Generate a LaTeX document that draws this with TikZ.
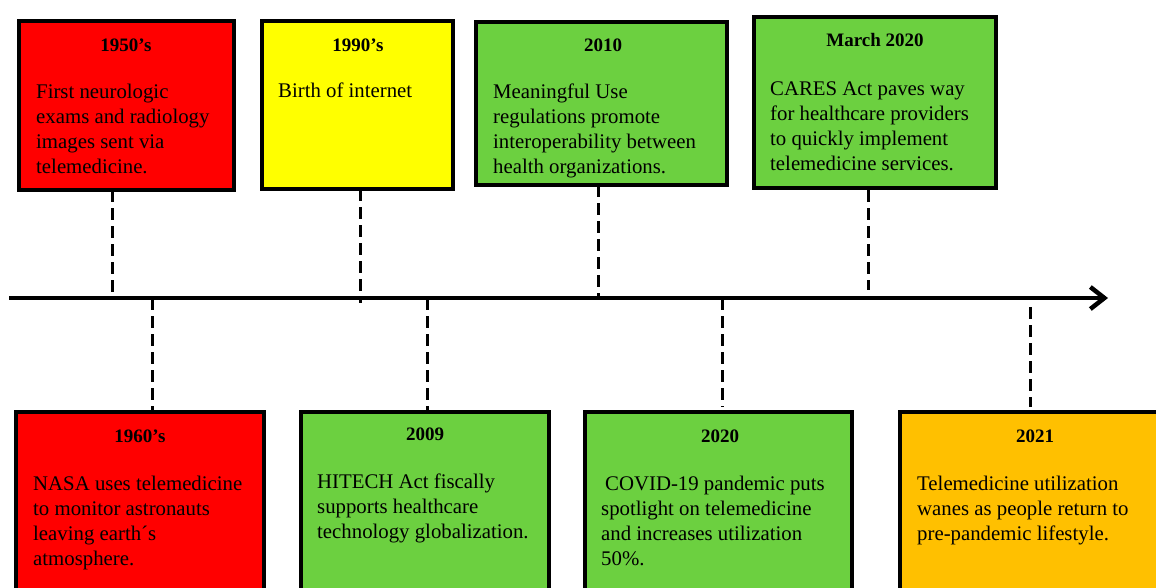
\documentclass[tikz,border=0pt]{standalone}
\usepackage{fontspec}
\setmainfont{Liberation Serif}
\usetikzlibrary{arrows.meta,shadows}

\definecolor{evred}{RGB}{255,0,0}
\definecolor{evyellow}{RGB}{255,255,0}
\definecolor{evgreen}{RGB}{108,208,64}
\definecolor{evorange}{RGB}{255,192,0}

\tikzset{
  evbox/.style={draw=black, line width=4pt, rectangle, inner sep=0pt, outer sep=0pt,
    drop shadow={shadow xshift=1pt, shadow yshift=-1.5pt, fill=black, opacity=0.3}},
  ttl/.style={anchor=base, inner sep=0pt, font=\fontsize{19}{23}\selectfont\bfseries},
  body/.style={anchor=north west, inner sep=0pt, align=left, font=\fontsize{20.8}{25}\selectfont},
  timeline/.style={line width=4.5pt, -{Straight Barb[length=14pt,width=22pt]}},
  dropline/.style={line width=3pt, dash pattern=on 12pt off 6pt},
}
% first-line strut so that a body's north edge sits 16pt above its first baseline
\newcommand{\fl}{\rule{0pt}{16pt}}

\begin{document}
\begin{tikzpicture}[x=1pt, y=-1pt]
  \useasboundingbox (0,0) rectangle (1156,587);
  \clip (0,0) rectangle (1156,587);

  % timeline axis
  \coordinate (axL) at (9,298);
  \coordinate (axR) at (1108,298);
  \draw[timeline] (axL) -- (axR);

  % events above the axis
  \node[evbox, fill=evred,    minimum width=215pt, minimum height=169pt] (b1950) at (126.5,105.5) {};
  \node[evbox, fill=evyellow, minimum width=191pt, minimum height=168pt] (b1990) at (357.5,105) {};
  \node[evbox, fill=evgreen,  minimum width=251pt, minimum height=163pt] (b2010) at (601.5,103.5) {};
  \node[evbox, fill=evgreen,  minimum width=242pt, minimum height=171pt] (bMar)  at (875,102.5) {};

  % events below the axis (running past the lower edge)
  \node[evbox, fill=evred,    minimum width=248pt, minimum height=208pt] (b1960) at (140,516) {};
  \node[evbox, fill=evgreen,  minimum width=248pt, minimum height=208pt] (b2009) at (425,516) {};
  \node[evbox, fill=evgreen,  minimum width=267pt, minimum height=208pt] (b2020) at (718.5,516) {};
  \node[evbox, fill=evorange, minimum width=300pt, minimum height=208pt] (b2021) at (1050,516) {};

  % titles
  \node[ttl] (t1950) at (126,51) {1950’s};
  \node[ttl] (t1990) at (358,51) {1990’s};
  \node[ttl] (t2010) at (603,51) {2010};
  \node[ttl] (tMar)  at (875,46) {March 2020};
  \node[ttl] (t1960) at (140,442) {1960’s};
  \node[ttl] (t2009) at (425,440) {2009};
  \node[ttl] (t2020) at (720,442) {2020};
  \node[ttl] (t2021) at (1035,442) {2021};

  % descriptions
  \node[body] (d1950) at (36,82) {\fl First neurologic\\exams and radiology\\images sent via\\telemedicine.};
  \node[body] (d1990) at (278,81) {\fl Birth of internet};
  \node[body] (d2010) at (493,82) {\fl Meaningful Use\\regulations promote\\interoperability between\\health organizations.};
  \node[body] (dMar)  at (770,79) {\fl CARES Act paves way\\for healthcare providers\\to quickly implement\\telemedicine services.};
  \node[body] (d1960) at (33,474) {\fl NASA uses telemedicine\\to monitor astronauts\\leaving earth´s\\atmosphere.};
  \node[body] (d2009) at (317,472) {\fl HITECH Act fiscally\\supports healthcare\\technology globalization.};
  \node[body] (d2020) at (601,474) {\fl\hspace{4pt}COVID-19 pandemic puts\\spotlight on telemedicine\\and increases utilization\\50\%.};
  \node[body] (d2021) at (917,474) {\fl Telemedicine utilization\\wanes as people return to\\pre-pandemic lifestyle.};

  % points on the axis
  \coordinate (a1950) at (112,293);
  \coordinate (a1990) at (360,303);
  \coordinate (a2010) at (598,298);
  \coordinate (aMar)  at (868,290);
  \coordinate (a1960) at (152,298);
  \coordinate (a2009) at (427,298);
  \coordinate (a2020) at (722,298);
  \coordinate (a2021) at (1030,307);

  % dashed drop lines
  \draw[dropline] (b1950.south -| a1950) -- (a1950);
  \draw[dropline] (b1990.south -| a1990) -- (a1990);
  \draw[dropline] (b2010.south -| a2010) -- (a2010);
  \draw[dropline, shorten <=2pt] (bMar.south -| aMar) -- (aMar);
  \draw[dropline] (a1960) -- (b1960.north -| a1960);
  \draw[dropline] (a2009) -- (b2009.north -| a2009);
  \draw[dropline, shorten >=5pt] (a2020) -- (b2020.north -| a2020);
  \draw[dropline, shorten >=5pt] (a2021) -- (b2021.north -| a2021);
\end{tikzpicture}
\end{document}
